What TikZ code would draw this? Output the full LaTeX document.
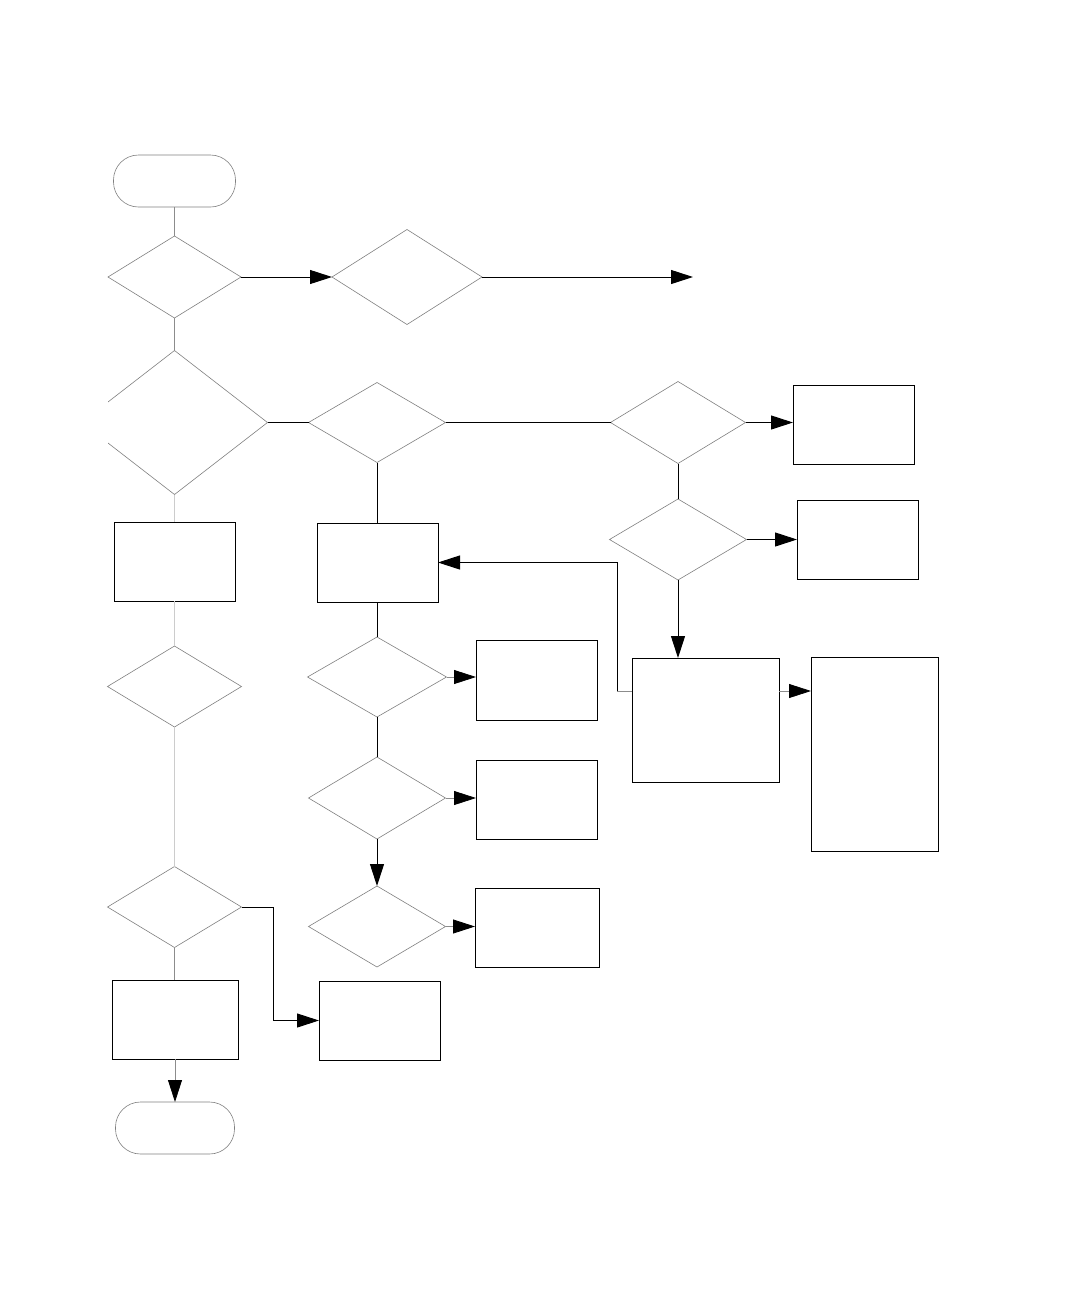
\documentclass[tikz,border=0pt]{standalone}
\usetikzlibrary{shapes.geometric,arrows.meta}
\begin{document}
\begin{tikzpicture}[x=1pt,y=-1pt,
  dec/.style={diamond,draw=black!50,line width=0.6pt,inner sep=0pt,outer sep=0pt},
  box/.style={rectangle,draw=black,line width=1pt,inner sep=0pt,outer sep=0pt},
  term/.style={rectangle,rounded corners=25pt,draw=black!50,line width=0.6pt,inner sep=0pt,outer sep=0pt},
  con/.style={draw=black,line width=1pt},
  gcon/.style={draw=black!45,line width=0.8pt},
  lcon/.style={draw=black!20,line width=1pt},
  tip/.style={-{Triangle[length=22pt,width=14pt,color=black]}}
]
\path[fill=white] (0,0) rectangle (1080,1296);
% terminals
\node[term,minimum width=122,minimum height=52] (start) at (174.5,181) {};
\node[term,minimum width=119,minimum height=52] (end) at (175,1128) {};
% decisions
\node[dec,minimum width=133,minimum height=82] (d1) at (174.5,277) {};
\node[dec,minimum width=150,minimum height=95] (d2) at (407,277) {};
\begin{scope}
\clip (108,300) rectangle (400,520);
\node[dec,minimum width=186,minimum height=144] (d3) at (174.5,422.5) {};
\end{scope}
\node[dec,minimum width=137,minimum height=80] (d4) at (377,422.5) {};
\node[dec,minimum width=135,minimum height=82] (d5) at (678,422.5) {};
\node[dec,minimum width=137,minimum height=81] (d6) at (678,539.5) {};
\node[dec,minimum width=134,minimum height=81] (d7) at (174.5,686.5) {};
\node[dec,minimum width=134,minimum height=81] (d8) at (174.5,907) {};
\node[dec,minimum width=139,minimum height=80] (d9) at (377,677) {};
\node[dec,minimum width=137,minimum height=82] (d10) at (377,798) {};
\node[dec,minimum width=137,minimum height=81] (d11) at (377,926.5) {};
% boxes
\node[box,minimum width=121,minimum height=79] (r1) at (853.5,424.5) {};
\node[box,minimum width=121,minimum height=79] (r2) at (857.5,539.5) {};
\node[box,minimum width=147,minimum height=124] (r3) at (705.5,720) {};
\node[box,minimum width=127,minimum height=194] (r4) at (874.5,754) {};
\node[box,minimum width=121,minimum height=79] (r5) at (377.5,562.5) {};
\node[box,minimum width=121,minimum height=79] (r6) at (174.5,561.5) {};
\node[box,minimum width=121,minimum height=79] (r7) at (379.5,1020.5) {};
\node[box,minimum width=126,minimum height=79] (r8) at (175,1019.5) {};
\node[box,minimum width=121,minimum height=80] (r9) at (536.5,680) {};
\node[box,minimum width=121,minimum height=79] (r10) at (536.5,799.5) {};
\node[box,minimum width=124,minimum height=79] (r11) at (537,927.5) {};
% helper coordinates
\coordinate (free) at (693,277);
\coordinate (j1) at (0,691);
\coordinate (j2) at (617,0);
\coordinate (j3) at (273,0);
% connectors
\draw[gcon] (d1.north |- start.south) -- (d1.north);
\draw[con,tip] (d1.east) -- (d1.east -| d2.west);
\draw[con,tip] (d2.east) -- (free);
\draw[gcon] (d1.south) -- (d3.north);
\draw[con] (d3.east) -- (d4.west);
\draw[con] (d4.east) -- (d5.west);
\draw[con,tip] (d5.east) -- (d5.east -| r1.west);
\draw[con] (d5.south) -- (d6.north);
\draw[con,tip] (d6.east) -- (d6.east -| r2.west);
\draw[con,tip] (d6.south) -- (d6.south |- r3.north);
\draw[gcon,tip] (r3.east |- j1) -- (r4.west |- j1);
\draw[gcon] (r3.west |- j1) -- (j2 |- j1);
\draw[con,tip] (j2 |- j1) |- (r5.east);
\draw[con] (d4.south) -- (d4.south |- r5.north);
\draw[lcon] (d3.south) -- (r6.north);
\draw[lcon] (r6.south) -- (d7.north);
\draw[lcon] (d7.south) -- (d8.north);
\draw[con,tip] (d8.east) -| (j3 |- d8.east) |- (r7.west);
\draw[gcon] (d8.south) -- (d8.south |- r8.north);
\draw[gcon,tip] (r8.south) -- (end.north);
\draw[con] (d9.north |- r5.south) -- (d9.north);
\draw[gcon,tip] (d9.east) -- (d9.east -| r9.west);
\draw[con] (d9.south) -- (d10.north);
\draw[gcon,tip] (d10.east) -- (d10.east -| r10.west);
\draw[con,tip] (d10.south) -- (d11.north);
\draw[gcon,tip] (d11.east) -- (d11.east -| r11.west);
\end{tikzpicture}
\end{document}
